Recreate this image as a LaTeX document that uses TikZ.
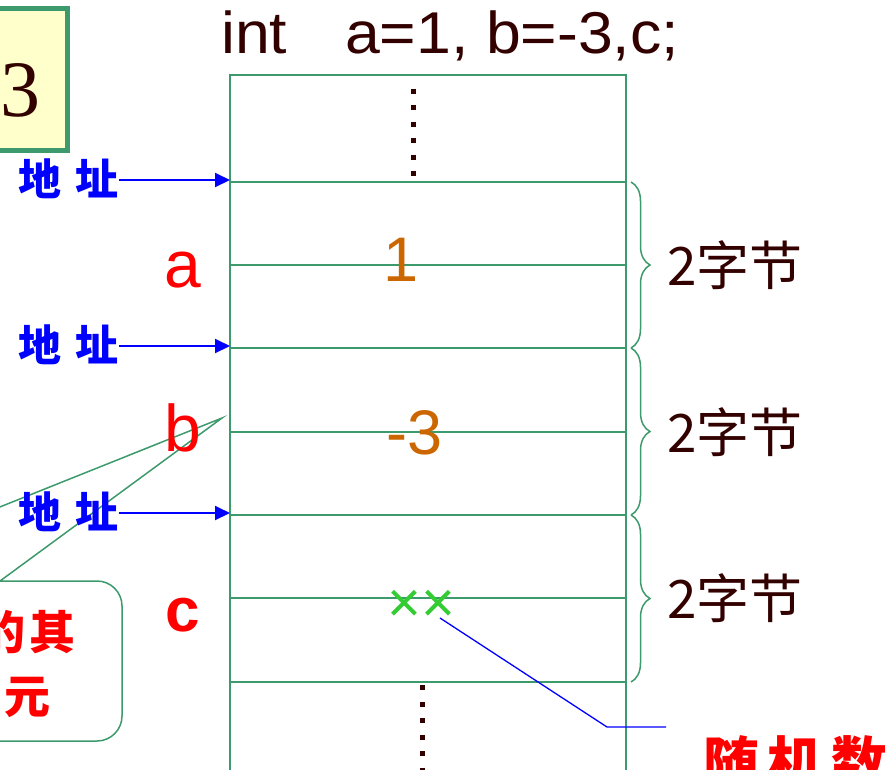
\documentclass[tikz,border=0pt]{standalone}
\usepackage{fontspec}
\setmainfont{Liberation Sans}
\newfontfamily\widefont[FakeStretch=1.06]{Liberation Sans}
\newfontfamily\cjkfont{Noto Sans CJK SC}
\newfontfamily\seriffont{Liberation Serif}
\usetikzlibrary{decorations.pathreplacing,arrows.meta}
\definecolor{cellgreen}{HTML}{3D9A6C}
\definecolor{darkbrown}{HTML}{330000}
\definecolor{valorange}{HTML}{CC6600}
\definecolor{boxyellow}{HTML}{FFFFCC}
\definecolor{crossgreen}{HTML}{33CC33}
\tikzset{
    cellline/.style={draw=cellgreen,line width=1.6pt},
    addr/.style={text=blue,font=\cjkfont\bfseries\fontsize{43}{43}\selectfont,inner sep=0pt,anchor=east},
    addrarrow/.style={blue,line width=2pt,-{Triangle[length=15pt,width=14pt]}},
    varname/.style={text=red,font=\fontsize{66}{66}\selectfont,inner sep=0pt},
    cellvalue/.style={text=valorange,font=\fontsize{63}{63}\selectfont,inner sep=0pt},
    bytebrace/.style={draw=cellgreen,line width=1.5pt,decorate,
        decoration={brace,amplitude=19pt}},
    bytes/.style={text=darkbrown,font=\cjkfont\fontsize{53}{53}\selectfont,anchor=west,inner sep=0pt},
    memdots/.style={darkbrown,line width=5pt,dash pattern=on 5pt off 11.5pt},
    othertext/.style={text=red,font=\cjkfont\bfseries\fontsize{46}{46}\selectfont,anchor=east,inner sep=0pt},
}
\begin{document}
\begin{tikzpicture}[x=1pt,y=-1pt]
    \useasboundingbox (0,0) rectangle (893,769);
    \clip (0,0) rectangle (893,769);
    % callout for the other cells
    \draw[cellgreen,line width=1.5pt,fill=white]
        (-300,741) [rounded corners=25pt] -- (-300,581) [sharp corners] -- (-185,581)
        -- (222,418) -- (0,581) [rounded corners=25pt] -- (122,581) -- (122,741) -- cycle;
    \node[othertext] (other1) at (76,632) {的\hspace{4pt}其};
    \node[othertext] (other2) at (51,697) {元};
    % yellow box
    \draw[draw=cellgreen,line width=5pt,fill=boxyellow] (-100,8) rectangle (67,150);
    \node[text=darkbrown,font=\seriffont\fontsize{80}{80}\selectfont,inner sep=0pt]
        (num) at (20,90) {3};
    % declaration
    \node[text=darkbrown,font=\widefont\fontsize{59}{59}\selectfont,anchor=base west,inner sep=0pt]
        (decl) at (221,53) {int\hspace{58pt}a=1, b=-3,c;};
    % memory column
    \draw[cellline] (230,775) -- (230,75) -- (626,75) -- (626,775);
    \foreach \y in {182,265,348,432,515,598,682}
        \draw[cellline] (230,\y) -- (626,\y);
    \draw[memdots] (413,88.5) -- (413,178);
    \draw[memdots] (422,685) -- (422,775);
    % braces
    \foreach \top/\bot/\mid in {182/348/265,348/515/432,515/682/598} {
        \draw[bytebrace] (631,\top) -- (631,\bot);
        \node[bytes] at (667,\mid) {2字节};
    }
    % addresses
    \foreach \n/\y in {1/182,2/348,3/515} {
        \node[addr] (addr\n) at (119,\y-3) {地\hspace{14pt}址};
        \coordinate (cell\n) at (230,\y-2);
        \draw[addrarrow] (addr\n.east |- cell\n) -- (cell\n);
    }
    % variables
    \node[varname] (a) at (183,270) {a};
    \node[varname] (b) at (183,428) {b};
    \node[varname,font=\bfseries\fontsize{62}{62}\selectfont] (c) at (183,615) {c};
    \node[cellvalue] (va) at (401,260) {1};
    \node[cellvalue] (vb) at (415,433) {-3};
    \node[text=crossgreen,font=\fontsize{58}{58}\selectfont,inner sep=0pt] (vc) at (421,606) {××};
    % random value
    \node[text=red,font=\cjkfont\bfseries\fontsize{56}{56}\selectfont,anchor=north west,inner sep=0pt]
        (rnd) at (703,735) {随\hspace{8pt}机\hspace{8pt}数};
    \coordinate (vcend) at (440,618);
    \coordinate (rndend) at (666,727);
    \draw[blue,line width=1.3pt] (vcend) -- (607,727) -- (rndend);
\end{tikzpicture}
\end{document}
